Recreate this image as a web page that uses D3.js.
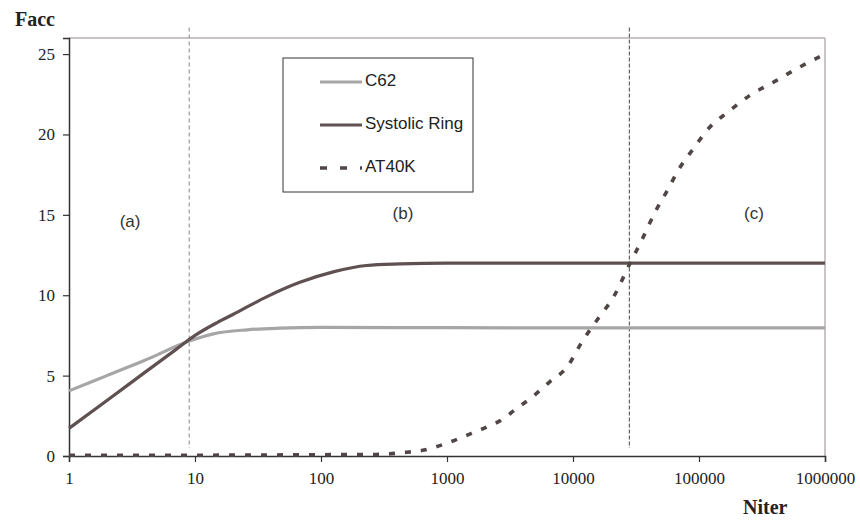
<!DOCTYPE html>
<html>
<head>
<meta charset="utf-8">
<script src="https://cdn.jsdelivr.net/npm/d3@7"></script>
<style>
  body { margin: 0; background: #fff; }
  svg { display: block; }
</style>
</head>
<body>
<svg id="chart" width="860" height="521"></svg>
<script>
// ---- data ----
const xTicks = [1, 10, 100, 1000, 10000, 100000, 1000000];
const yTicks = [0, 5, 10, 15, 20, 25];

const c62N = [1, 2, 4, 9, 14, 26, 47, 100, 1000, 10000, 100000, 1000000];
const c62V = [4.05, 5.0, 5.95, 7.15, 7.6, 7.85, 7.95, 8.0, 7.98, 7.97, 7.97, 7.97];

const sysN = [1, 2, 4, 7, 10, 15, 20, 37, 68, 125, 230, 425, 1000, 10000, 100000, 1000000];
const sysV = [1.72, 3.45, 5.2, 6.6, 7.5, 8.3, 8.8, 9.9, 10.8, 11.45, 11.85, 11.95, 12.0, 12.0, 12.0, 12.0];

const atN = [1, 10, 100, 300, 425, 660, 1000, 1450, 2000, 2650, 3500, 4800, 6500, 8900, 12000, 16000, 21000, 28000, 35000, 45000, 55000, 70000, 90000, 120000, 170000, 250000, 400000, 600000, 1000000];
const atV = [0.05, 0.05, 0.08, 0.1, 0.2, 0.37, 0.8, 1.3, 1.75, 2.2, 2.9, 3.7, 4.6, 5.5, 7.2, 8.6, 9.9, 11.9, 13.4, 15.2, 16.4, 17.9, 19.1, 20.4, 21.4, 22.4, 23.3, 24.1, 25.0];

const seriesNames = ["C62", "Systolic Ring", "AT40K"];
const regionLabels = ["(a)", "(b)", "(c)"];
const regionPos = [[3.05, 14.5], [447, 15.05], [273000, 15.0]];
const dividers = [9, 28000];

// ---- layout ----
const svg = d3.select("#chart");
const L = 69, R = 825, T = 38, B = 456;
const x = d3.scaleLog().domain([1, 1000000]).range([L, R]);
const y = d3.scaleLinear().domain([0, 26]).range([B, T]);

const serif = "'Liberation Serif', 'Times New Roman', serif";
const sans = "'Liberation Sans', Arial, sans-serif";

// frame (top/right)
svg.append("line").attr("x1", L).attr("x2", R).attr("y1", T).attr("y2", T)
  .attr("stroke", "#b9b0b0").attr("stroke-width", 1.5);
svg.append("line").attr("x1", R).attr("x2", R).attr("y1", T).attr("y2", B)
  .attr("stroke", "#b9b0b0").attr("stroke-width", 1.5);

// divider dashed lines
svg.append("line").attr("x1", x(dividers[0])).attr("x2", x(dividers[0]))
  .attr("y1", y(26.65)).attr("y2", y(0.5))
  .attr("stroke", "#9a9a9a").attr("stroke-width", 1.2).attr("stroke-dasharray", "4,3");
svg.append("line").attr("x1", x(dividers[1])).attr("x2", x(dividers[1]))
  .attr("y1", y(26.65)).attr("y2", y(0.5))
  .attr("stroke", "#444").attr("stroke-width", 1).attr("stroke-dasharray", "4,2");

// axes
const xAxis = svg.append("g").attr("transform", `translate(0,${B})`)
  .call(d3.axisBottom(x).tickValues(xTicks).tickFormat(d3.format("d")).tickSize(6).tickPadding(10));
const yAxis = svg.append("g").attr("transform", `translate(${L},0)`)
  .call(d3.axisLeft(y).tickValues(yTicks).tickSize(6).tickPadding(8));
[xAxis, yAxis].forEach(g => {
  g.select(".domain").attr("stroke", "#333").attr("stroke-width", 1.5);
  g.selectAll(".tick line").attr("stroke", "#333").attr("stroke-width", 1.2);
  g.selectAll(".tick text").attr("fill", "#222").attr("font-family", serif).attr("font-size", 17);
});

// lines
const line = d3.line().x(d => x(d[0])).y(d => y(d[1])).curve(d3.curveMonotoneX);
const c62 = d3.zip(c62N, c62V), sys = d3.zip(sysN, sysV), at = d3.zip(atN, atV);

svg.append("path").datum(c62).attr("d", line).attr("fill", "none")
  .attr("stroke", "#a6a6a6").attr("stroke-width", 3.2);
svg.append("path").datum(sys).attr("d", line).attr("fill", "none")
  .attr("stroke", "#5f5151").attr("stroke-width", 3.2);
svg.append("path").datum(at).attr("d", line).attr("fill", "none")
  .attr("stroke", "#514646").attr("stroke-width", 3.6).attr("stroke-dasharray", "6,10");

// region labels
svg.selectAll(".region").data(regionLabels).enter().append("text")
  .attr("x", (d, i) => x(regionPos[i][0])).attr("y", (d, i) => y(regionPos[i][1]))
  .attr("text-anchor", "middle").attr("dominant-baseline", "middle")
  .attr("font-family", sans).attr("font-size", 17).attr("fill", "#333").text(d => d);

// axis titles
svg.append("text").attr("x", 15).attr("y", 26).attr("font-family", serif)
  .attr("font-size", 20).attr("font-weight", "bold").attr("fill", "#222").text("Facc");
svg.append("text").attr("x", 743).attr("y", 514).attr("font-family", serif)
  .attr("font-size", 20).attr("font-weight", "bold").attr("fill", "#222").text("Niter");

// legend
const lg = svg.append("g");
lg.append("rect").attr("x", 283).attr("y", 58).attr("width", 190).attr("height", 134)
  .attr("fill", "#fff").attr("stroke", "#333").attr("stroke-width", 1);
const legStyles = [
  {stroke: "#a6a6a6", w: 3.2, dash: null},
  {stroke: "#5f5151", w: 3.2, dash: null},
  {stroke: "#514646", w: 3.6, dash: "7,13"}
];
const legY = [82, 125, 168];
seriesNames.forEach((name, i) => {
  const l = lg.append("line").attr("x1", 320).attr("x2", 362).attr("y1", legY[i]).attr("y2", legY[i])
    .attr("stroke", legStyles[i].stroke).attr("stroke-width", legStyles[i].w);
  if (legStyles[i].dash) l.attr("stroke-dasharray", legStyles[i].dash);
  lg.append("text").attr("x", 365).attr("y", legY[i]).attr("dominant-baseline", "middle")
    .attr("font-family", sans).attr("font-size", 17).attr("fill", "#222").text(name);
});
</script>
</body>
</html>
